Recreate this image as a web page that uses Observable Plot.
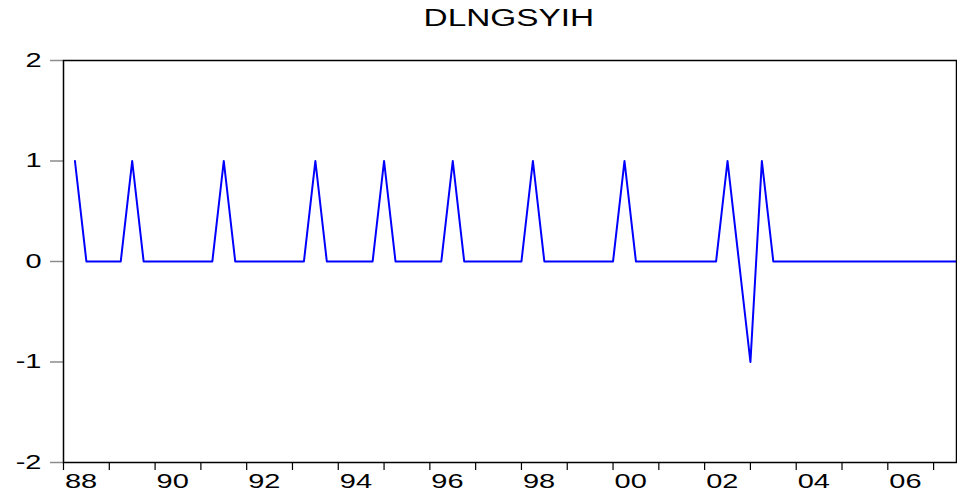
<!DOCTYPE html>
<html>
<head>
<meta charset="utf-8">
<script src="https://cdn.jsdelivr.net/npm/d3@7"></script>
<script src="https://cdn.jsdelivr.net/npm/@observablehq/plot@0.6"></script>
<style>
  body { margin: 0; background: #fff; }
  #title { width: 957px; height: 36px; box-sizing: border-box; padding-left: 63px; padding-right: 2px;
           text-align: center; font-family: "Liberation Sans", Arial, sans-serif; font-size: 23px; line-height: 36px; color: #000; }
  #title span { display: inline-block; transform: scaleX(1.45); transform-origin: center; }
</style>
</head>
<body>
<div id="title"><span>DLNGSYIH</span></div>
<div id="chart"></div>
<script>
// Quarterly series, first observation 1988Q2, last 2007Q3
const startYear = 1988;
const startQuarter = 2;
const values = [
  1, 0, 0, 0, 0,
  1, 0, 0, 0, 0, 0, 0, 0,
  1, 0, 0, 0, 0, 0, 0, 0,
  1, 0, 0, 0, 0, 0,
  1, 0, 0, 0, 0, 0,
  1, 0, 0, 0, 0, 0, 0,
  1, 0, 0, 0, 0, 0, 0, 0,
  1, 0, 0, 0, 0, 0, 0, 0, 0,
  1, 0, -1, 1,
  0, 0, 0, 0, 0, 0, 0, 0, 0, 0, 0, 0, 0, 0, 0, 0, 0
];
const xTicks = [1988, 1989, 1990, 1991, 1992, 1993, 1994, 1995, 1996, 1997,
                1998, 1999, 2000, 2001, 2002, 2003, 2004, 2005, 2006, 2007];
const xTickLabels = ["88", "", "90", "", "92", "", "94", "", "96", "",
                     "98", "", "00", "", "02", "", "04", "", "06", ""];
const yTicks = [-2, -1, 0, 1, 2];
const yTickLabels = ["-2", "-1", "0", "1", "2"];
const xDomain = [1988, 2007.5];
const yDomain = [-2, 2];

const data = values.map((v, i) => {
  const qi = (startQuarter - 1) + i;
  return { t: startYear + qi / 4, value: v };
});

const font = '"Liberation Sans", Arial, sans-serif';

const chart = Plot.plot({
  width: 957,
  height: 459,
  marginLeft: 63,
  marginRight: 1,
  marginTop: 24,
  marginBottom: 33,
  style: { fontFamily: font, fontSize: "20px", color: "#000", background: "#fff" },
  x: { domain: xDomain, label: null },
  y: { domain: yDomain, label: null },
  marks: [
    Plot.axisY({ ticks: yTicks, tickSize: 13, tickPadding: 9, stroke: "#8c8c8c", strokeWidth: 1.5, fill: "#000", label: null, fontSize: 20,
                 tickFormat: d => yTickLabels[yTicks.indexOf(d)] ?? "" }),
    Plot.axisX({ ticks: xTicks, tickSize: 8, tickPadding: 3, stroke: "#000", strokeWidth: 1.2, fill: "#000", label: null, fontSize: 20,
                 textAnchor: "start",
                 tickFormat: d => xTickLabels[xTicks.indexOf(d)] ?? "" }),
    Plot.line(data, { x: "t", y: "value", stroke: "#0000ff", strokeWidth: 2 }),
    Plot.frame({ stroke: "#000", strokeWidth: 1.5 })
  ]
});

function stretch(sel, anchor, dxPx) {
  chart.querySelectorAll(sel).forEach(t => {
    const tr = t.getAttribute("transform") || "";
    if (anchor) t.setAttribute("text-anchor", anchor);
    t.setAttribute("transform", `${tr} translate(${dxPx},0) scale(1.45,1)`);
  });
}
stretch('g[aria-label="x-axis tick label"] text', "start", 1.5);
stretch('g[aria-label="y-axis tick label"] text', null, 0);

document.getElementById("chart").appendChild(chart);
</script>
</body>
</html>
